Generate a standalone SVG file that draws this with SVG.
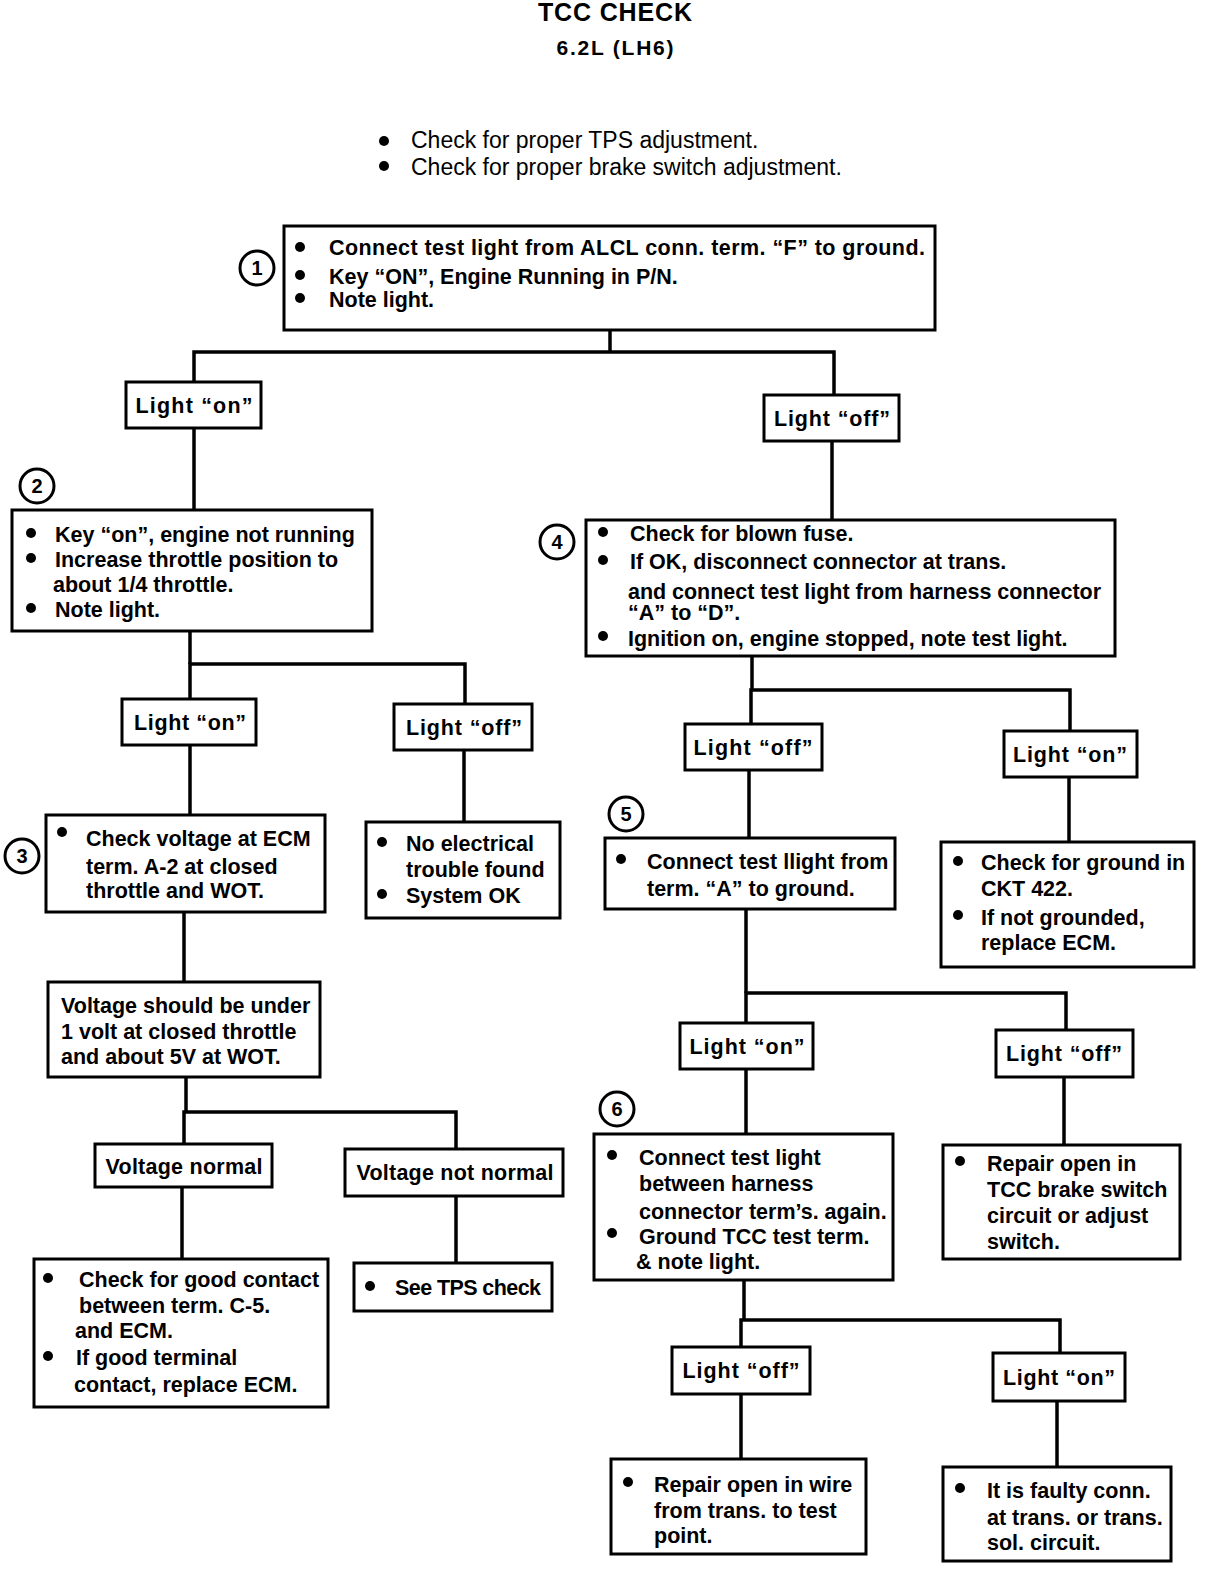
<svg xmlns="http://www.w3.org/2000/svg" width="1216" height="1578" viewBox="0 0 1216 1578">
<style>
.bg{fill:#fff}
.box{fill:#fff;stroke:#000;stroke-width:3}
.wire{fill:none;stroke:#000;stroke-width:3.5}
.t{font-family:"Liberation Sans",Arial,sans-serif;font-size:21.5px;font-weight:bold;fill:#000}
.n{font-family:"Liberation Sans",Arial,sans-serif;font-size:23px;fill:#000}
.c{text-anchor:middle}
.h{font-family:"Liberation Sans",Arial,sans-serif;font-weight:bold;fill:#000;text-anchor:middle}
.num{fill:#fff;stroke:#000;stroke-width:3}
.nt{font-family:"Liberation Sans",Arial,sans-serif;font-weight:bold;font-size:20px;fill:#000;text-anchor:middle}
</style>
<defs>
<circle id="b" r="5" fill="#000"/>
</defs>
<rect class="bg" width="1216" height="1578"/>

<g id="title">
<text class="h" x="615" y="21" font-size="25" textLength="154">TCC CHECK</text>
<text class="h" x="615" y="55" font-size="21" textLength="117">6.2L (LH6)</text>
</g>

<g id="notes">
<use href="#b" x="384" y="141"/>
<text class="n" x="411" y="148">Check for proper TPS adjustment.</text>
<use href="#b" x="384" y="166"/>
<text class="n" x="411" y="175">Check for proper brake switch adjustment.</text>
</g>

<g id="connectors">
<polyline class="wire" points="610,330 610,352"/>
<polyline class="wire" points="194,382 194,352 834,352 834,395"/>
<polyline class="wire" points="194,428 194,510"/>
<polyline class="wire" points="832,441 832,520"/>
<polyline class="wire" points="190,631 190,664"/>
<polyline class="wire" points="190,699 190,664 465,664 465,704"/>
<polyline class="wire" points="190,745 190,815"/>
<polyline class="wire" points="464,750 464,822"/>
<polyline class="wire" points="184,912 184,982"/>
<polyline class="wire" points="186,1077 186,1112"/>
<polyline class="wire" points="184,1144 184,1112 456,1112 456,1149"/>
<polyline class="wire" points="182,1187 182,1259"/>
<polyline class="wire" points="456,1196 456,1263"/>
<polyline class="wire" points="752,656 752,690"/>
<polyline class="wire" points="751,724 751,690 1070,690 1070,731"/>
<polyline class="wire" points="749,770 749,838"/>
<polyline class="wire" points="1069,777 1069,842"/>
<polyline class="wire" points="746,909 746,993"/>
<polyline class="wire" points="746,1023 746,993 1066,993 1066,1030"/>
<polyline class="wire" points="746,1069 746,1134"/>
<polyline class="wire" points="1064,1077 1064,1145"/>
<polyline class="wire" points="744,1280 744,1320"/>
<polyline class="wire" points="741,1347 741,1320 1060,1320 1060,1353"/>
<polyline class="wire" points="741,1394 741,1459"/>
<polyline class="wire" points="1057,1401 1057,1467"/>
</g>

<g id="step1">
<rect class="box" x="284" y="226" width="651" height="104"/>
<circle class="num" cx="257" cy="268" r="17"/><text class="nt" x="257" y="275">1</text>
<use href="#b" x="300" y="247"/><text class="t" x="329" y="255" textLength="596">Connect test light from ALCL conn. term. “F” to ground.</text>
<use href="#b" x="300" y="275"/><text class="t" x="329" y="284">Key “ON”,  Engine Running in P/N.</text>
<use href="#b" x="300" y="298"/><text class="t" x="329" y="307">Note light.</text>
</g>

<g id="l1on"><rect class="box" x="126" y="382" width="135" height="46"/><text class="t c" x="194" y="413" textLength="117">Light “on”</text></g>
<g id="l1off"><rect class="box" x="764" y="395" width="135" height="46"/><text class="t c" x="832" y="426" textLength="116">Light “off”</text></g>

<g id="step2">
<rect class="box" x="12" y="510" width="360" height="121"/>
<circle class="num" cx="37" cy="486" r="17"/><text class="nt" x="37" y="493">2</text>
<use href="#b" x="31" y="533"/><text class="t" x="55" y="542">Key “on”, engine not running</text>
<use href="#b" x="31" y="558"/><text class="t" x="55" y="567">Increase throttle position to</text>
<text class="t" x="53" y="592">about 1/4 throttle.</text>
<use href="#b" x="31" y="608"/><text class="t" x="55" y="617">Note light.</text>
</g>

<g id="l2on"><rect class="box" x="122" y="699" width="134" height="46"/><text class="t c" x="190" y="730" textLength="112">Light “on”</text></g>
<g id="l2off"><rect class="box" x="394" y="704" width="138" height="46"/><text class="t c" x="464" y="735" textLength="116">Light “off”</text></g>

<g id="step3">
<rect class="box" x="46" y="815" width="279" height="97"/>
<circle class="num" cx="22" cy="856" r="17"/><text class="nt" x="22" y="863">3</text>
<use href="#b" x="62" y="832"/><text class="t" x="86" y="846">Check voltage at ECM</text>
<text class="t" x="86" y="874">term. A-2 at closed</text>
<text class="t" x="86" y="898">throttle and WOT.</text>
</g>

<g id="noelec">
<rect class="box" x="366" y="822" width="194" height="96"/>
<use href="#b" x="382" y="842"/><text class="t" x="406" y="851">No electrical</text>
<text class="t" x="406" y="877">trouble found</text>
<use href="#b" x="382" y="894"/><text class="t" x="406" y="903">System OK</text>
</g>

<g id="vshould">
<rect class="box" x="48" y="982" width="272" height="95"/>
<text class="t" x="61" y="1013">Voltage should be under</text>
<text class="t" x="61" y="1039">1 volt at closed throttle</text>
<text class="t" x="61" y="1064">and about 5V at WOT.</text>
</g>

<g id="vnormal"><rect class="box" x="95" y="1144" width="177" height="43"/><text class="t c" x="184" y="1174" textLength="157">Voltage normal</text></g>
<g id="vnotnormal"><rect class="box" x="345" y="1149" width="218" height="47"/><text class="t c" x="455" y="1180" textLength="197">Voltage not normal</text></g>

<g id="goodcontact">
<rect class="box" x="34" y="1259" width="294" height="148"/>
<use href="#b" x="48" y="1278"/><text class="t" x="79" y="1287">Check for good contact</text>
<text class="t" x="79" y="1313">between term. C-5.</text>
<text class="t" x="75" y="1338">and ECM.</text>
<use href="#b" x="48" y="1356"/><text class="t" x="76" y="1365">If good  terminal</text>
<text class="t" x="74" y="1392">contact, replace ECM.</text>
</g>

<g id="tps">
<rect class="box" x="354" y="1263" width="198" height="48"/>
<use href="#b" x="370" y="1286"/><text class="t" x="395" y="1295" textLength="146">See TPS check</text>
</g>

<g id="step4">
<rect class="box" x="586" y="520" width="529" height="136"/>
<circle class="num" cx="557" cy="542" r="17"/><text class="nt" x="557" y="549">4</text>
<use href="#b" x="603" y="532"/><text class="t" x="630" y="541">Check for blown fuse.</text>
<use href="#b" x="603" y="560"/><text class="t" x="630" y="569">If OK, disconnect connector at trans.</text>
<text class="t" x="628" y="599" textLength="473">and connect test light from harness connector</text>
<text class="t" x="628" y="620">“A” to “D”.</text>
<use href="#b" x="603" y="636"/><text class="t" x="628" y="646">Ignition on, engine stopped, note test light.</text>
</g>

<g id="l4off"><rect class="box" x="685" y="724" width="137" height="46"/><text class="t c" x="753" y="755" textLength="119">Light “off”</text></g>
<g id="l4on"><rect class="box" x="1004" y="731" width="133" height="46"/><text class="t c" x="1070" y="762" textLength="114">Light “on”</text></g>

<g id="step5">
<rect class="box" x="605" y="838" width="290" height="71"/>
<circle class="num" cx="626" cy="814" r="17"/><text class="nt" x="626" y="821">5</text>
<use href="#b" x="621" y="859"/><text class="t" x="647" y="869">Connect test llight from</text>
<text class="t" x="647" y="896">term. “A” to ground.</text>
</g>

<g id="ckt422">
<rect class="box" x="941" y="842" width="253" height="125"/>
<use href="#b" x="958" y="861"/><text class="t" x="981" y="870">Check for ground in</text>
<text class="t" x="981" y="896">CKT 422.</text>
<use href="#b" x="958" y="915"/><text class="t" x="981" y="925">If not grounded,</text>
<text class="t" x="981" y="950">replace ECM.</text>
</g>

<g id="l5on"><rect class="box" x="680" y="1023" width="133" height="46"/><text class="t c" x="747" y="1054" textLength="115">Light “on”</text></g>
<g id="l5off"><rect class="box" x="996" y="1030" width="137" height="47"/><text class="t c" x="1064" y="1061" textLength="116">Light “off”</text></g>

<g id="step6">
<rect class="box" x="594" y="1134" width="299" height="146"/>
<circle class="num" cx="617" cy="1109" r="17"/><text class="nt" x="617" y="1116">6</text>
<use href="#b" x="612" y="1155"/><text class="t" x="639" y="1165">Connect test light</text>
<text class="t" x="639" y="1191">between harness</text>
<text class="t" x="639" y="1219">connector term’s. again.</text>
<use href="#b" x="612" y="1233"/><text class="t" x="639" y="1244">Ground TCC test term.</text>
<text class="t" x="636" y="1269">&amp; note light.</text>
</g>

<g id="brakesw">
<rect class="box" x="943" y="1145" width="237" height="114"/>
<use href="#b" x="960" y="1161"/><text class="t" x="987" y="1171">Repair open in</text>
<text class="t" x="987" y="1197">TCC brake switch</text>
<text class="t" x="987" y="1223">circuit or adjust</text>
<text class="t" x="987" y="1249">switch.</text>
</g>

<g id="l6off"><rect class="box" x="672" y="1347" width="138" height="47"/><text class="t c" x="741" y="1378" textLength="117">Light “off”</text></g>
<g id="l6on"><rect class="box" x="993" y="1353" width="132" height="48"/><text class="t c" x="1059" y="1385" textLength="112">Light “on”</text></g>

<g id="wire">
<rect class="box" x="611" y="1459" width="255" height="95"/>
<use href="#b" x="628" y="1482"/><text class="t" x="654" y="1492">Repair open in wire</text>
<text class="t" x="654" y="1518">from trans. to test</text>
<text class="t" x="654" y="1543">point.</text>
</g>

<g id="faulty">
<rect class="box" x="943" y="1467" width="228" height="94"/>
<use href="#b" x="960" y="1488"/><text class="t" x="987" y="1498">It is faulty conn.</text>
<text class="t" x="987" y="1525">at trans. or trans.</text>
<text class="t" x="987" y="1550">sol. circuit.</text>
</g>
</svg>
